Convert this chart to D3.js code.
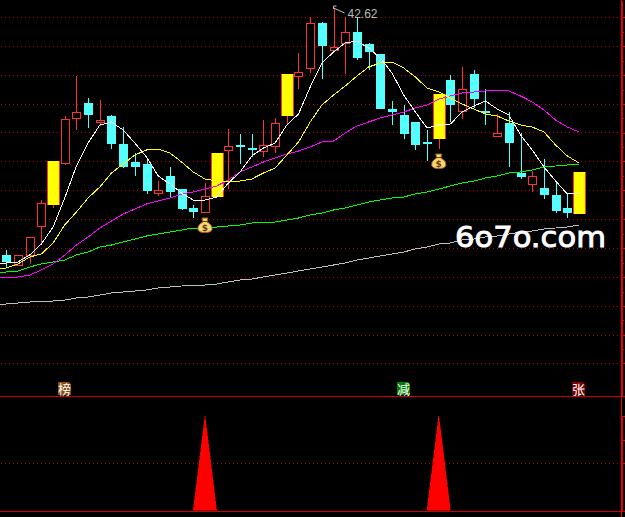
<!DOCTYPE html>
<html><head><meta charset="utf-8">
<style>html,body{margin:0;padding:0;background:#000;overflow:hidden}svg{display:block}</style>
<script src="https://d3js.org/d3.v7.min.js"></script></head><body>
<svg id="c" width="625" height="517"></svg>
<script>
const opens=[17.89,16.95,17.92,20.85,22.92,27.15,31.59,33.12,31.22,31.82,29.02,27.22,27.02,24.12,25.82,24.52,22.62,22.22,23.72,28.42,28.92,28.62,28.32,28.85,31.82,35.82,36.59,41.12,38.42,39.12,40.22,39.02,38.02,32.52,31.92,31.22,29.22,29.52,35.42,32.35,36.02,32.32,29.82,31.12,26.12,25.02,24.62,23.92,22.62,22.02];
const closes=[17.22,17.89,19.69,23.09,27.32,31.49,32.19,31.92,31.42,29.02,26.72,26.72,24.32,24.42,24.22,22.52,22.22,23.82,28.12,28.82,28.72,28.42,28.92,31.12,36.02,36.22,41.09,38.82,38.72,40.19,37.62,38.22,32.52,32.22,30.02,28.92,29.07,34.02,32.92,34.49,33.52,32.22,30.12,29.12,25.72,25.82,23.92,22.32,22.12,26.22];
const highs=[18.42,17.89,19.69,23.42,27.32,31.82,35.82,33.62,33.42,31.92,30.72,28.12,27.42,25.32,26.72,24.52,22.92,25.12,28.12,30.52,30.02,30.02,31.42,31.62,36.02,38.12,41.72,41.22,42.62,41.72,41.72,39.12,38.02,33.32,32.92,31.22,30.42,34.02,35.92,36.72,36.42,34.52,32.02,32.22,30.12,26.32,27.52,25.32,24.02,26.22];
const lows=[16.72,16.87,17.02,19.12,22.62,26.95,30.42,30.62,30.82,28.52,26.62,25.82,24.02,23.82,23.72,22.42,21.62,22.12,23.72,24.52,27.02,27.72,27.72,28.12,30.92,34.52,36.12,35.52,38.22,36.02,37.42,36.42,32.52,30.92,29.52,28.42,27.32,28.52,31.22,31.52,32.62,30.92,29.72,26.72,25.52,24.22,23.52,22.12,21.62,22.02];
const limitUpDays=[4,18,24,37,49];
// moving averages: first value belongs to the session just before the visible window
const ma5=[17.07,17.12,17.22,17.92,19.02,20.72,23.62,26.82,29.12,30.92,31.22,30.42,29.12,27.72,25.82,25.02,24.12,23.42,23.42,23.72,25.12,26.22,27.82,28.62,29.12,30.92,32.02,34.72,37.12,38.22,39.12,39.32,38.62,37.62,36.12,33.92,32.22,30.62,30.92,31.02,32.22,32.82,33.32,32.52,31.92,29.92,28.42,26.72,25.32,24.02,24.12];
const ma10=[16.52,16.62,17.02,17.72,18.02,19.12,20.92,22.22,23.62,24.72,26.12,27.02,27.92,28.42,28.52,28.12,27.22,26.22,25.52,25.32,25.22,25.32,25.52,26.12,26.62,27.92,29.22,31.22,32.92,33.92,34.82,35.82,36.72,37.12,37.22,36.62,35.72,34.62,34.22,33.62,33.02,32.52,32.02,31.82,31.32,30.92,30.72,30.22,28.92,27.82,27.12];
const ma20=[15.72,15.72,15.72,15.92,16.42,17.02,17.92,18.92,19.72,20.62,21.32,22.02,22.52,23.02,23.32,23.62,24.02,24.22,24.52,24.82,25.42,26.22,26.72,27.22,27.62,28.02,28.32,28.72,29.22,29.32,30.12,30.82,31.22,31.62,31.92,32.22,32.62,32.92,33.52,33.82,34.12,34.22,34.32,34.42,34.32,33.82,33.22,32.42,31.42,30.72,30.22];
const ma60=[16.12,16.22,16.32,16.72,17.02,17.22,17.42,17.92,18.22,18.72,18.92,19.22,19.52,19.82,20.02,20.22,20.42,20.62,20.62,20.72,20.82,20.92,21.12,21.22,21.22,21.42,21.62,21.92,22.12,22.42,22.62,22.92,23.22,23.42,23.62,23.72,24.02,24.22,24.52,24.82,25.12,25.32,25.62,25.82,26.12,26.22,26.42,26.72,26.82,26.92,27.02];
const ma120=[12.97,13.02,13.12,13.22,13.32,13.32,13.42,13.62,13.72,13.92,14.12,14.22,14.32,14.42,14.62,14.72,14.82,14.92,14.92,15.02,15.22,15.42,15.52,15.72,15.92,16.12,16.32,16.52,16.72,16.92,17.12,17.42,17.62,17.82,18.02,18.22,18.52,18.72,19.02,19.12,19.42,19.52,19.72,19.82,20.02,20.22,20.32,20.52,20.62,20.72,20.92];
const gridLevels=[41.72,38.82,35.92,33.02,30.17,27.32,24.42,21.52,18.62,15.72,12.82,9.97,7.12];
const minorLevels=[40.27,37.37,34.47,31.6,28.75,25.87,22.97,20.07,17.17,14.27,11.4,8.55];
const signalDays=[17,37];
const signalHeight=100;
const lowerTicks=[100,75,50];
const markers=[{day:5,text:"榜",color:"#8a4a0c"},{day:34,text:"减",color:"#007f00"},{day:49,text:"张",color:"#7c0000"}];
const highLabel="42.62";
const watermark="6o7o.com";

const RED="#ff3232",CYAN="#54ffff",GRID="#b80000",AXIS="#e80000";
const svg=d3.select("#c");
svg.append("rect").attr("width",625).attr("height",517).attr("fill","#000");
const x=d3.scaleLinear().domain([0,49]).range([6.3,579]);
const y=d3.scaleLinear().domain([43.42,3.82]).range([0,396]);
const yLow=d3.scaleLinear().domain([0,100]).range([510,416]);

// grid
const grid=svg.append("g").attr("shape-rendering","crispEdges");
grid.selectAll("line").data(gridLevels).join("line")
 .attr("x1",1).attr("x2",620).attr("y1",d=>Math.round(y(d))+.5).attr("y2",d=>Math.round(y(d))+.5)
 .attr("stroke",GRID).attr("stroke-dasharray","1 3");
grid.append("line").attr("x1",1).attr("x2",620).attr("y1",yLow(50)+.5).attr("y2",yLow(50)+.5).attr("stroke",GRID).attr("stroke-dasharray","1 3");

// candles
const days=d3.range(opens.length);
const isLimit=i=>limitUpDays.includes(i);
const isUp=i=>closes[i]>=opens[i];
const cg=svg.append("g").attr("shape-rendering","crispEdges");
days.forEach(i=>{
 const cx=Math.round(x(i))+.5, col=isUp(i)?RED:CYAN;
 const top=Math.max(opens[i],closes[i]),bot=Math.min(opens[i],closes[i]);
 const yt=Math.round(y(top)),yb=Math.round(y(bot));
 if(highs[i]>top) cg.append("line").attr("x1",cx).attr("x2",cx).attr("y1",y(highs[i])).attr("y2",yt).attr("stroke",col);
 if(lows[i]<bot) cg.append("line").attr("x1",cx).attr("x2",cx).attr("y1",yb).attr("y2",y(lows[i])).attr("stroke",col);
 if(isLimit(i)){
  cg.append("rect").attr("x",cx-6).attr("y",yt).attr("width",12).attr("height",yb-yt).attr("fill","#ffff00");
  [cx-6,cx+6].forEach(e=>cg.append("line").attr("x1",e).attr("x2",e).attr("y1",yt).attr("y2",yb).attr("stroke",RED));
 } else if(isUp(i)){
  cg.append("rect").attr("x",cx-4).attr("y",yt+.5).attr("width",8).attr("height",Math.max(yb-yt,1)).attr("fill","#000").attr("stroke",RED);
 } else {
  cg.append("rect").attr("x",cx-4.5).attr("y",yt).attr("width",9).attr("height",Math.max(yb-yt,2)).attr("fill",CYAN);
 }
});

// moving averages
const line=d3.line().x((d,i)=>x(i-1)).y(d=>y(d));
[[ma120,"#c0c0c0"],[ma60,"#00ff00"],[ma20,"#ff00ff"],[ma10,"#ffff00"],[ma5,"#ffffff"]].forEach(([s,c])=>{
 svg.append("path").attr("d",line(s)).attr("fill","none").attr("stroke",c).attr("stroke-width",1).attr("shape-rendering","crispEdges");
});

// money bags
signalDays.forEach(d=>{
 const g=svg.append("g").attr("transform",`translate(${x(d)},${y(lows[d])+12})`);
 g.append("path").attr("d","M-3,-7 L3,-7 L2,-3 C6,-1 7.5,2 7,4.5 C6.5,7 3,7.5 0,7.5 C-3,7.5 -6.5,7 -7,4.5 C-7.5,2 -6,-1 -2,-3 Z")
  .attr("fill","#f4d878").attr("stroke","#a85c10").attr("stroke-width",1);
 g.append("line").attr("x1",-2.5).attr("x2",2.5).attr("y1",-3.5).attr("y2",-3.5).attr("stroke","#7a3c08");
 g.append("text").attr("y",6).attr("text-anchor","middle").attr("font-family","DejaVu Sans").attr("font-weight","bold").attr("font-size",9).attr("fill","#6e3a08").text("$");
});

// highest price note
const hx=x(highs.indexOf(d3.max(highs))),hy=y(d3.max(highs));
svg.append("path").attr("d",`M${hx},${hy+1} v-3 h3 M${hx},${hy} l11,5`).attr("fill","none").attr("stroke","#c0c0c0").attr("stroke-width",1);
svg.append("text").attr("x",347.5).attr("y",18).attr("font-family","Liberation Sans").attr("font-size",13.5).attr("fill","#b8b8b8").attr("textLength",30).attr("lengthAdjust","spacingAndGlyphs").text(highLabel);

// watermark
svg.append("text").attr("x",455).attr("y",247).attr("font-family","DejaVu Sans").attr("font-size",29).attr("fill","#fff").attr("stroke","#fff").attr("stroke-width",0.9).attr("textLength",151).attr("lengthAdjust","spacingAndGlyphs").text(watermark);

// lower panel
const tri=d3.line().x(d=>x(d[0])).y(d=>yLow(d[1]));
signalDays.forEach(d=>{
 svg.append("path").attr("d",tri([[d-1,0],[d,signalHeight],[d+1,0]])+"Z").attr("fill","#ff0000").attr("stroke","#ff0000").attr("stroke-width",0.5).attr("stroke-miterlimit",40).attr("shape-rendering","crispEdges");
});
[396,511].forEach(v=>svg.append("line").attr("x1",0).attr("x2",625).attr("y1",v+.5).attr("y2",v+.5).attr("stroke","#d00000").attr("shape-rendering","crispEdges"));

// markers
markers.forEach(m=>{
 const cx=Math.round(x(m.day))-.5;
 const g=svg.append("g").attr("transform",`translate(${cx},382)`);
 g.append("path").attr("d","M-6.5,0 H4.5 L6.5,2 V13 H-6.5 Z").attr("fill",m.color);
 g.append("text").attr("y",11.5).attr("text-anchor","middle").attr("font-family","Noto Sans CJK SC").attr("font-size",13).attr("fill","#fff").text(m.text);
});

// right axes
const styleAxis=g=>{g.attr("shape-rendering","crispEdges");g.selectAll("path,line").attr("stroke",AXIS);g.selectAll("text").remove();};
svg.append("g").attr("transform","translate(621.5,0)").call(d3.axisRight(y).tickValues(gridLevels).tickSize(3.5).tickSizeOuter(0).tickFormat("")).call(styleAxis);
svg.append("g").attr("transform","translate(621.5,0)").call(d3.axisRight(y).tickValues(minorLevels).tickSize(2.5).tickSizeOuter(0).tickFormat("")).call(styleAxis);
svg.append("g").attr("transform","translate(621.5,0)").call(d3.axisRight(yLow).tickValues(lowerTicks).tickSize(3.5).tickSizeOuter(0).tickFormat("")).call(styleAxis);
svg.append("line").attr("x1",621.5).attr("x2",621.5).attr("y1",0).attr("y2",517).attr("stroke",AXIS).attr("shape-rendering","crispEdges");
</script></body></html>
